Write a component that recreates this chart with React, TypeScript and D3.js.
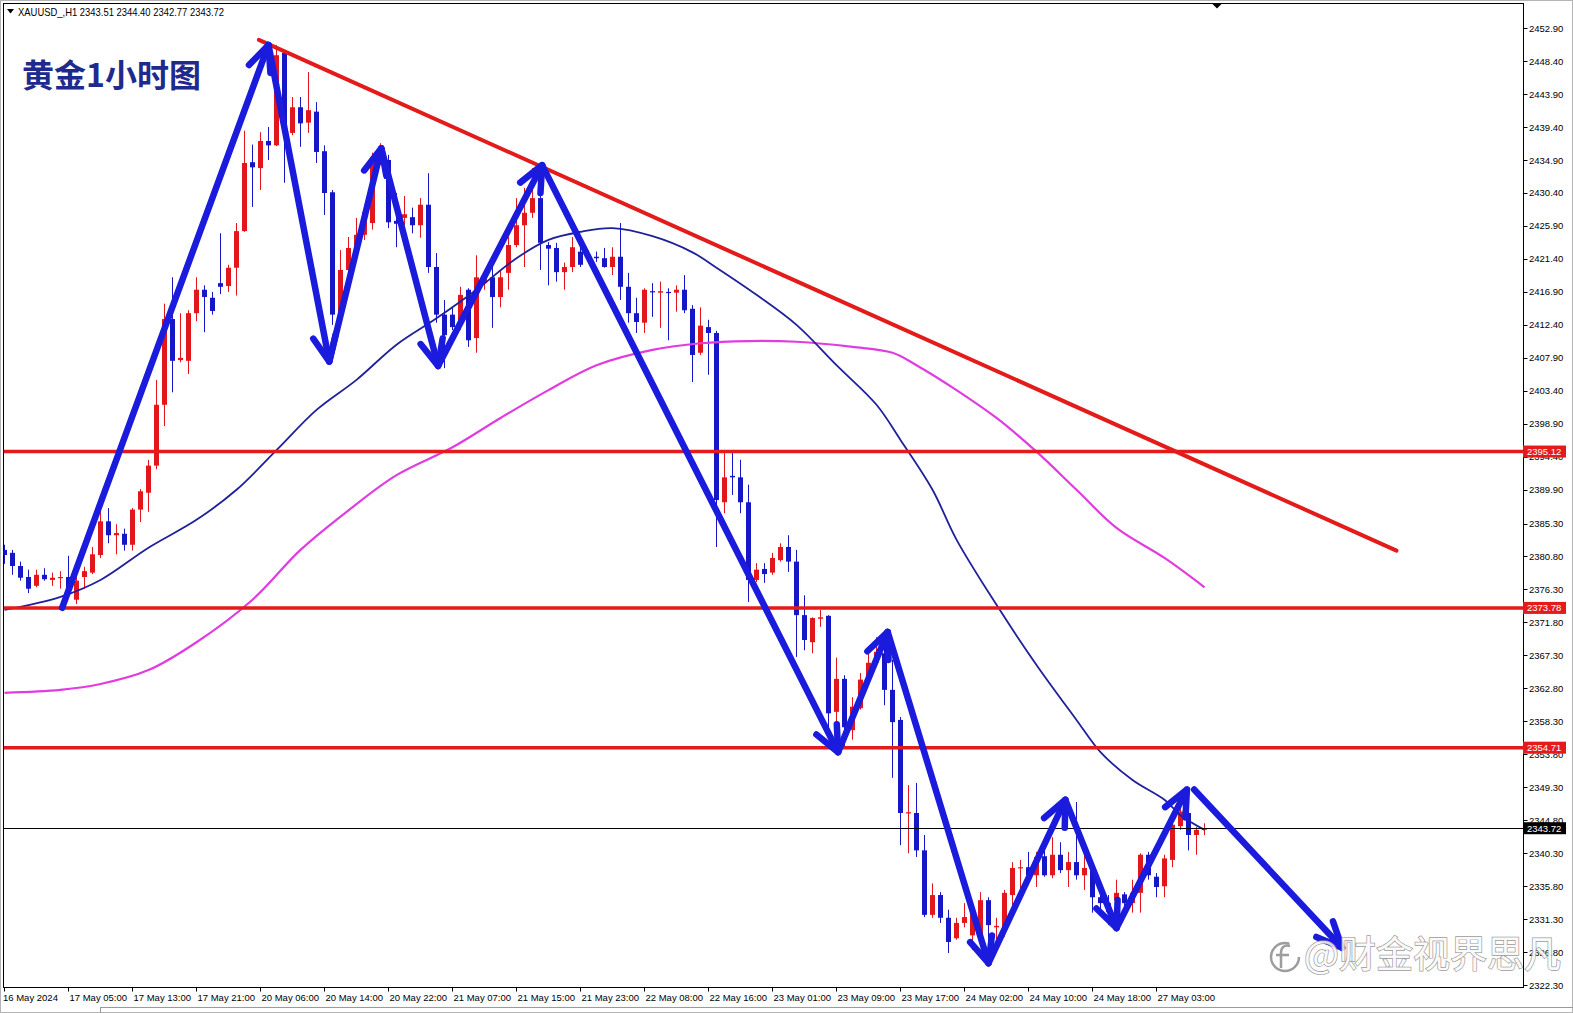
import React from "react";
import * as d3 from "d3";

// ---------- data ----------
const OPEN = [
  2381.7, 2381.3, 2379.5, 2378.0, 2376.8, 2378.3, 2377.6, 2377.9, 2378.0, 2374.9,
  2378.0, 2378.6, 2381.0, 2385.6, 2383.7, 2383.9, 2382.4, 2387.2, 2389.5, 2393.2,
  2401.5, 2413.2, 2407.6, 2407.5, 2414.0, 2417.2, 2416.1, 2418.1, 2417.7, 2420.2,
  2425.2, 2434.6, 2433.8, 2437.5, 2436.9, 2449.5, 2438.6, 2442.1, 2440.0, 2441.5,
  2436.1, 2430.5, 2413.8, 2419.9, 2422.9, 2424.7, 2426.3, 2434.9, 2434.9, 2426.6,
  2427.0, 2427.1, 2426.0, 2428.8, 2420.3, 2413.8, 2413.8, 2412.7, 2417.2, 2410.6,
  2418.1, 2418.9, 2416.2, 2419.5, 2423.3, 2426.0, 2427.7, 2429.7, 2423.3, 2422.9,
  2419.6, 2420.3, 2422.4, 2421.5, 2421.7, 2421.5, 2420.3, 2421.7, 2417.6, 2414.0,
  2412.7, 2417.0, 2416.8, 2416.9, 2416.8, 2417.2, 2414.6, 2408.6, 2412.1, 2411.3,
  2388.2, 2391.8, 2391.6, 2388.2, 2377.6, 2379.1, 2378.6, 2380.3, 2382.1, 2380.1,
  2372.8, 2369.1, 2372.3, 2372.7, 2359.6, 2364.1, 2357.1, 2360.1, 2364.0, 2366.3,
  2367.6, 2362.6, 2358.5, 2345.8, 2345.8, 2340.7, 2331.9, 2334.6, 2331.5, 2328.7,
  2330.8, 2329.1, 2328.9, 2333.9, 2330.2, 2330.2, 2334.6, 2338.3, 2338.4, 2337.3,
  2339.9, 2337.3, 2340.1, 2338.0, 2339.1, 2337.3, 2338.0, 2334.3, 2333.5, 2333.9,
  2334.7, 2333.5, 2334.9, 2340.1, 2337.1, 2335.8, 2339.4, 2344.0, 2345.8, 2342.8,
  2343.51,
];
const HIGH = [
  2382.4, 2381.7, 2380.1, 2379.0, 2379.0, 2379.2, 2378.6, 2378.8, 2380.9, 2378.8,
  2379.4, 2382.1, 2387.4, 2387.4, 2385.2, 2384.6, 2387.4, 2390.0, 2394.0, 2404.9,
  2415.3, 2418.9, 2414.0, 2414.4, 2418.9, 2417.8, 2416.9, 2424.9, 2420.6, 2426.3,
  2438.9, 2437.0, 2438.7, 2439.4, 2450.6, 2449.9, 2443.5, 2443.5, 2446.9, 2442.8,
  2436.9, 2430.8, 2422.6, 2424.4, 2427.0, 2428.8, 2435.9, 2437.2, 2435.6, 2430.4,
  2430.0, 2428.4, 2429.7, 2433.1, 2422.2, 2415.8, 2414.8, 2417.6, 2417.4, 2421.9,
  2419.9, 2420.3, 2419.9, 2424.4, 2429.7, 2431.1, 2433.8, 2432.2, 2423.7, 2423.6,
  2420.9, 2424.4, 2424.0, 2422.6, 2422.4, 2422.9, 2423.0, 2426.3, 2419.5, 2416.1,
  2417.4, 2418.1, 2418.3, 2417.4, 2417.8, 2419.2, 2415.1, 2414.8, 2413.1, 2411.6,
  2395.1, 2395.1, 2394.0, 2390.6, 2379.9, 2379.9, 2381.3, 2382.6, 2383.7, 2381.7,
  2375.5, 2372.5, 2373.5, 2372.8, 2367.0, 2364.6, 2361.6, 2364.9, 2367.6, 2369.8,
  2370.5, 2366.7, 2358.9, 2349.6, 2349.9, 2342.8, 2336.2, 2335.0, 2332.6, 2331.5,
  2333.5, 2333.2, 2335.0, 2334.3, 2331.5, 2335.3, 2339.1, 2339.4, 2340.5, 2340.5,
  2342.5, 2342.5, 2341.8, 2340.5, 2347.3, 2340.8, 2338.4, 2335.3, 2334.6, 2336.7,
  2335.0, 2336.7, 2340.3, 2340.5, 2337.6, 2340.1, 2345.1, 2347.6, 2346.2, 2343.9,
  2344.40,
];
const LOW = [
  2379.8, 2378.3, 2377.5, 2375.8, 2376.6, 2377.5, 2376.8, 2376.4, 2375.8, 2374.3,
  2376.4, 2378.4, 2380.6, 2382.6, 2381.1, 2381.6, 2381.6, 2385.5, 2386.9, 2392.7,
  2398.6, 2403.2, 2407.3, 2405.7, 2412.9, 2411.4, 2413.8, 2416.6, 2416.9, 2416.4,
  2425.1, 2428.5, 2430.8, 2434.9, 2436.8, 2431.8, 2438.3, 2436.7, 2438.6, 2434.5,
  2427.4, 2412.4, 2413.3, 2418.9, 2422.4, 2424.0, 2425.4, 2434.2, 2425.6, 2423.0,
  2426.0, 2424.9, 2424.3, 2419.5, 2412.7, 2406.5, 2411.7, 2411.7, 2409.4, 2408.6,
  2417.2, 2412.0, 2414.8, 2417.2, 2423.0, 2420.3, 2427.0, 2419.9, 2417.8, 2418.3,
  2417.2, 2419.6, 2420.3, 2421.0, 2421.0, 2420.2, 2419.2, 2415.8, 2412.7, 2411.3,
  2411.3, 2413.5, 2412.0, 2410.3, 2414.2, 2414.0, 2404.6, 2408.3, 2405.6, 2382.1,
  2386.7, 2389.2, 2386.7, 2374.6, 2377.3, 2377.2, 2378.3, 2380.1, 2378.7, 2367.1,
  2368.0, 2367.6, 2371.2, 2357.5, 2357.5, 2354.8, 2355.8, 2359.9, 2363.5, 2365.7,
  2360.5, 2350.6, 2341.4, 2340.3, 2339.8, 2331.6, 2331.5, 2330.8, 2326.7, 2328.5,
  2330.2, 2327.1, 2327.8, 2326.4, 2328.2, 2328.9, 2333.0, 2335.3, 2336.9, 2335.7,
  2337.1, 2336.9, 2337.6, 2335.7, 2336.7, 2335.3, 2332.2, 2331.9, 2330.5, 2332.6,
  2332.8, 2332.2, 2332.2, 2336.7, 2334.3, 2334.3, 2338.4, 2343.5, 2340.7, 2340.1,
  2342.77,
];
const CLOSE = [
  2381.0, 2379.5, 2377.9, 2376.4, 2378.3, 2377.7, 2377.9, 2378.0, 2376.4, 2377.5,
  2378.8, 2381.1, 2385.6, 2383.7, 2384.0, 2382.4, 2387.2, 2389.7, 2393.2, 2401.5,
  2413.2, 2407.5, 2407.9, 2414.0, 2417.2, 2416.2, 2414.3, 2417.6, 2420.2, 2425.2,
  2434.5, 2433.9, 2437.5, 2436.9, 2449.2, 2438.6, 2442.1, 2439.9, 2441.7, 2436.0,
  2430.4, 2413.8, 2419.9, 2422.9, 2424.7, 2427.8, 2435.3, 2436.3, 2426.4, 2426.2,
  2427.5, 2426.0, 2428.8, 2420.3, 2413.8, 2411.0, 2412.1, 2416.5, 2410.3, 2418.9,
  2418.9, 2416.2, 2418.9, 2423.3, 2426.0, 2427.7, 2429.7, 2423.6, 2422.8, 2419.6,
  2420.3, 2423.0, 2420.6, 2421.9, 2421.5, 2420.3, 2421.7, 2417.6, 2414.0, 2412.8,
  2417.2, 2416.9, 2417.0, 2416.8, 2417.2, 2414.4, 2408.3, 2412.3, 2411.3, 2388.5,
  2391.6, 2391.6, 2388.2, 2377.6, 2379.0, 2378.4, 2380.6, 2382.1, 2380.1, 2372.8,
  2369.4, 2372.4, 2372.5, 2359.4, 2364.1, 2357.5, 2360.3, 2364.0, 2366.3, 2367.8,
  2362.6, 2358.2, 2345.8, 2345.9, 2340.7, 2331.9, 2334.6, 2331.5, 2328.2, 2330.8,
  2331.6, 2332.3, 2333.9, 2330.5, 2330.4, 2334.9, 2338.3, 2338.4, 2337.3, 2339.8,
  2337.3, 2340.1, 2338.0, 2339.1, 2337.3, 2338.3, 2334.3, 2333.5, 2332.3, 2334.9,
  2333.5, 2334.9, 2340.1, 2337.3, 2335.7, 2339.6, 2344.2, 2346.0, 2342.8, 2343.5,
  2343.72,
];

const TIME_LABELS = [
  "16 May 2024", "17 May 05:00", "17 May 13:00", "17 May 21:00", "20 May 06:00",
  "20 May 14:00", "20 May 22:00", "21 May 07:00", "21 May 15:00", "21 May 23:00",
  "22 May 08:00", "22 May 16:00", "23 May 01:00", "23 May 09:00", "23 May 17:00",
  "24 May 02:00", "24 May 10:00", "24 May 18:00", "27 May 03:00",
];
const TIME_LABEL_STEP = 8;

const PRICE_TICKS = [
  2452.9, 2448.4, 2443.9, 2439.4, 2434.9, 2430.4, 2425.9, 2421.4, 2416.9, 2412.4,
  2407.9, 2403.4, 2398.9, 2394.4, 2389.9, 2385.3, 2380.8, 2376.3, 2371.8, 2367.3,
  2362.8, 2358.3, 2353.8, 2349.3, 2344.8, 2340.3, 2335.8, 2331.3, 2326.8, 2322.3,
];

const LEVELS = [2395.12, 2373.78, 2354.71];
const LAST_PRICE = 2343.72;
const HEADER = "XAUUSD_,H1  2343.51 2344.40 2342.77 2343.72";
const TITLE = "黄金1小时图";
const WATERMARK = "@财金视界思凡";

// moving averages: [bar index, price]
const MA_FAST: [number, number][] = [
  [0, 2373.5], [7, 2375.3], [12, 2377.6], [18, 2382.0], [24, 2385.8], [29, 2389.9],
  [34, 2395.3], [39, 2400.8], [44, 2404.9], [49, 2409.7], [54, 2413.3], [59, 2417.2],
  [64, 2421.5], [68, 2424.0], [72, 2425.1], [76, 2425.6], [81, 2424.5], [86, 2422.3],
  [89, 2420.2], [94, 2416.5], [99, 2412.4], [104, 2406.9], [109, 2401.5], [112, 2396.7],
  [116, 2389.9], [119, 2383.1], [124, 2374.2], [129, 2366.0], [134, 2358.5], [137, 2354.1],
  [141, 2350.3], [145, 2347.6], [147, 2345.5], [150, 2343.5],
];
const MA_SLOW: [number, number][] = [
  [0, 2362.2], [7, 2362.6], [12, 2363.4], [18, 2365.3], [24, 2369.1], [31, 2374.9],
  [37, 2381.7], [43, 2387.1], [49, 2391.9], [56, 2395.7], [62, 2399.7], [68, 2403.5],
  [74, 2406.9], [81, 2409.0], [87, 2409.9], [93, 2410.2], [99, 2410.1], [106, 2409.4],
  [111, 2408.6], [114, 2406.9], [119, 2403.5], [124, 2399.7], [129, 2395.1], [134, 2389.9],
  [139, 2384.7], [145, 2380.6], [150, 2376.6],
];

const TREND: [number, number][] = [[31.8, 2451.3], [174.0, 2381.6]];

const ZIGZAG: [number, number][] = [
  [7.2, 2373.8], [33.0, 2450.6], [40.6, 2407.4], [47.1, 2436.5], [54.2, 2406.8],
  [67.2, 2434.2], [104.2, 2354.1], [110.4, 2370.5], [123.0, 2325.3], [132.6, 2347.6],
  [139.0, 2330.1], [147.8, 2349.0],
];
const PROJECTION: [number, number][] = [[148.7, 2349.0], [167.2, 2327.4]];

// ---------- styling ----------
const RED = "#e3161b";
const BLUE = "#1616c6";
const ARROW = "#1b1bdd";
const LEVEL_RED = "#e41b1b";
const MA_BLUE = "#20209a";
const MA_PINK = "#e03ce0";
const FONT = "'Liberation Sans', Arial, sans-serif";

const W = 1573;
const H = 1013;
const PL = 3.5, PT = 3.5, PR = 1523.5, PB = 987.5;

function arrowHead(x1: number, y1: number, x2: number, y2: number, len = 28, ang = 0.42) {
  const a = Math.atan2(y2 - y1, x2 - x1);
  const p1 = [x2 - len * Math.cos(a - ang), y2 - len * Math.sin(a - ang)];
  const p2 = [x2 - len * Math.cos(a + ang), y2 - len * Math.sin(a + ang)];
  return `M${p1[0]},${p1[1]}L${x2},${y2}L${p2[0]},${p2[1]}`;
}

export default function App() {
  const x = d3.scaleLinear().domain([0, 1]).range([4.5, 12.5]);
  const y = d3.scaleLinear().domain([2322.3, 2452.9]).range([985.2, 28.1]);

  const maLine = d3
    .line<[number, number]>()
    .x((d) => x(d[0]))
    .y((d) => y(d[1]))
    .curve(d3.curveCatmullRom.alpha(0.5));

  const arrows: { x1: number; y1: number; x2: number; y2: number }[] = [];
  for (let k = 0; k < ZIGZAG.length - 1; k++) {
    arrows.push({ x1: x(ZIGZAG[k][0]), y1: y(ZIGZAG[k][1]), x2: x(ZIGZAG[k + 1][0]), y2: y(ZIGZAG[k + 1][1]) });
  }
  arrows.push({ x1: x(PROJECTION[0][0]), y1: y(PROJECTION[0][1]), x2: x(PROJECTION[1][0]), y2: y(PROJECTION[1][1]) });

  return (
    <svg
      width={W}
      height={H}
      viewBox={`0 0 ${W} ${H}`}
      style={{ position: "absolute", left: 0, top: 0, display: "block", background: "#fff" }}
    >
      <defs>
        <clipPath id="plot">
          <rect x={PL} y={PT} width={PR - PL} height={PB - PT} />
        </clipPath>
      </defs>
      <rect x={0} y={0} width={W} height={H} fill="#fff" />
      <rect x={0.5} y={0.5} width={W - 1} height={H - 1} fill="none" stroke="#b4b4b4" />
      <line x1={100} x2={W} y1={1007.5} y2={1007.5} stroke="#9a9a9a" />
      <line x1={100.5} x2={100.5} y1={1007.5} y2={H} stroke="#9a9a9a" />

      {/* plot frame */}
      <rect x={PL} y={PT} width={PR - PL} height={PB - PT} fill="none" stroke="#000" strokeWidth={1} />

      {/* price axis */}
      <g fontFamily={FONT} fontSize={9.5} fill="#000">
        {PRICE_TICKS.map((p) => (
          <g key={p}>
            <line x1={PR} x2={PR + 4} y1={Math.round(y(p)) + 0.5} y2={Math.round(y(p)) + 0.5} stroke="#000" />
            <text x={1529} y={y(p)} dominantBaseline="central">
              {p.toFixed(2)}
            </text>
          </g>
        ))}
      </g>

      {/* time axis */}
      <g fontFamily={FONT} fontSize={9.5} fill="#000">
        {TIME_LABELS.map((t, k) => {
          const xi = x(k * TIME_LABEL_STEP);
          return (
            <g key={t}>
              <line x1={xi} x2={xi} y1={PB} y2={PB + 4} stroke="#000" />
              <text x={k === 0 ? 3 : xi + 1} y={997} dominantBaseline="central">
                {t}
              </text>
            </g>
          );
        })}
      </g>

      <g clipPath="url(#plot)">
        {/* candles */}
        {OPEN.map((o, i) => {
          const c = CLOSE[i];
          const up = c >= o;
          const col = up ? RED : BLUE;
          const cx = x(i);
          const top = y(Math.max(o, c));
          const bot = y(Math.min(o, c));
          return (
            <g key={i}>
              <line x1={cx} x2={cx} y1={y(HIGH[i])} y2={y(LOW[i])} stroke={col} strokeWidth={1} />
              <rect x={cx - 2.5} y={top} width={5} height={Math.max(1.2, bot - top)} fill={col} />
            </g>
          );
        })}

        {/* moving averages */}
        <path d={maLine(MA_SLOW) || ""} fill="none" stroke={MA_PINK} strokeWidth={2.2} />
        <path d={maLine(MA_FAST) || ""} fill="none" stroke={MA_BLUE} strokeWidth={1.8} />

        {/* horizontal levels */}
        {LEVELS.map((p) => (
          <line key={p} x1={PL} x2={PR} y1={y(p)} y2={y(p)} stroke={LEVEL_RED} strokeWidth={3.6} />
        ))}
        <line x1={PL} x2={PR} y1={Math.round(y(LAST_PRICE)) + 0.5} y2={Math.round(y(LAST_PRICE)) + 0.5} stroke="#000" strokeWidth={1} />

        {/* trend line */}
        <line
          x1={x(TREND[0][0])}
          y1={y(TREND[0][1])}
          x2={x(TREND[1][0])}
          y2={y(TREND[1][1])}
          stroke={LEVEL_RED}
          strokeWidth={4}
          strokeLinecap="round"
        />

        {/* hand-drawn arrows */}
        <g stroke={ARROW} strokeWidth={6.5} fill="none" strokeLinecap="round" strokeLinejoin="round">
          {arrows.map((a, k) => (
            <g key={k}>
              <line x1={a.x1} y1={a.y1} x2={a.x2} y2={a.y2} />
              <path d={arrowHead(a.x1, a.y1, a.x2, a.y2)} />
            </g>
          ))}
        </g>
      </g>

      {/* level labels */}
      <g fontFamily={FONT} fontSize={9.5}>
        {LEVELS.map((p) => (
          <g key={p}>
            <rect x={1523} y={y(p) - 6} width={43} height={12} fill={LEVEL_RED} />
            <text x={1527} y={y(p)} dominantBaseline="central" fill="#fff">
              {p.toFixed(2)}
            </text>
          </g>
        ))}
        <rect x={1523} y={y(LAST_PRICE) - 6} width={43} height={12} fill="#000" />
        <text x={1527} y={y(LAST_PRICE)} dominantBaseline="central" fill="#fff">
          {LAST_PRICE.toFixed(2)}
        </text>
      </g>

      {/* header */}
      <path d="M7,9 L14,9 L10.5,13.5 Z" fill="#000" />
      <text x={18} y={15.5} fontFamily={FONT} fontSize={10.5} fill="#000" textLength={206} lengthAdjust="spacingAndGlyphs">
        {HEADER}
      </text>
      <path d="M1212,3.5 L1222,3.5 L1217,8.5 Z" fill="#000" />

      {/* title */}
      <text
        x={22}
        y={87}
        fontFamily="'Noto Sans CJK SC', sans-serif"
        fontWeight={700}
        fontSize={32}
        fill="#1e2a8c"
      >
        {TITLE}
      </text>

      {/* watermark */}
      <g opacity={0.85}>
        <circle cx={1285} cy={957} r={14} fill="none" stroke="#8c8c8c" strokeWidth={2.5} strokeDasharray="70 18" />
        <path d="M1290,946 C1284,944 1281,948 1281,953 L1281,968 M1276,955 L1289,955" fill="none" stroke="#8c8c8c" strokeWidth={2.5} />
        <text
          x={1304}
          y={968}
          fontFamily="'Noto Sans CJK SC', sans-serif"
          fontSize={37}
          fill="#fafafa"
          stroke="#8a8a8a"
          strokeWidth={1.4}
          paintOrder="stroke"
        >
          {WATERMARK}
        </text>
      </g>
    </svg>
  );
}
